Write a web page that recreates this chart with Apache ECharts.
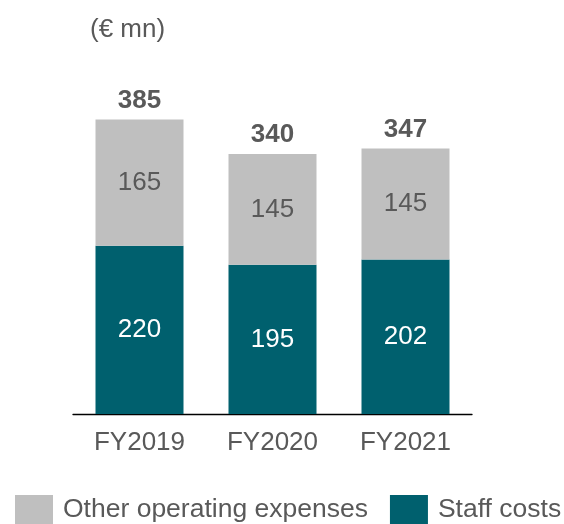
<!DOCTYPE html>
<html>
<head>
<meta charset="utf-8">
<script src="https://cdn.jsdelivr.net/npm/echarts@6/dist/echarts.min.js"></script>
<style>
html,body{margin:0;padding:0;background:#fff;}
#c{width:564px;height:524px;}
</style>
</head>
<body>
<div id="c"></div>
<script>
const categories = ['FY2019', 'FY2020', 'FY2021'];
const staffCosts = [220, 195, 202];
const otherOpex = [165, 145, 145];
const totals = [385, 340, 347];
const unitLabel = '(€ mn)';

const FONT = "'Liberation Sans', Arial, sans-serif";
const chart = echarts.init(document.getElementById('c'), null, {renderer: 'canvas'});
chart.setOption({
  animation: false,
  backgroundColor: '#ffffff',
  title: {
    text: unitLabel,
    left: 90, top: 17, padding: 0,
    textStyle: {fontFamily: FONT, fontSize: 26, fontWeight: 'normal', color: '#595959'}
  },
  legend: {
    data: ['Other operating expenses', 'Staff costs'],
    left: 15, top: 495, padding: 0, width: 800, orient: 'horizontal',
    itemWidth: 38, itemHeight: 29, itemGap: 22,
    icon: 'rect',
    textStyle: {fontFamily: FONT, fontSize: 26.5, color: '#595959', padding: [0, 0, 0, 5]}
  },
  grid: {left: 73, right: 92, top: 108, bottom: 110},
  xAxis: {
    type: 'category',
    data: categories,
    axisLine: {show: true, lineStyle: {color: '#000000', width: 1.3}},
    axisTick: {show: false},
    axisLabel: {fontFamily: FONT, fontSize: 26, color: '#595959', margin: 16}
  },
  yAxis: {
    type: 'value', min: 0, max: 400, show: false,
    splitLine: {show: false}
  },
  series: [
    {
      name: 'Staff costs', type: 'bar', stack: 'total', barWidth: 88,
      data: staffCosts,
      itemStyle: {color: '#00606E'},
      label: {show: true, position: 'inside', fontFamily: FONT, fontSize: 26, color: '#ffffff'}
    },
    {
      name: 'Other operating expenses', type: 'bar', stack: 'total', barWidth: 88,
      data: otherOpex,
      itemStyle: {color: '#BFBFBF'},
      label: {show: true, position: 'inside', fontFamily: FONT, fontSize: 26, color: '#595959'}
    },
    {
      name: 'Total', type: 'bar', barWidth: 88, barGap: '-100%',
      data: totals, silent: true, z: 1,
      itemStyle: {color: 'rgba(0,0,0,0)'},
      label: {show: true, position: 'top', distance: 6, fontFamily: FONT, fontSize: 26, fontWeight: 'bold', color: '#595959'}
    }
  ]
});
</script>
</body>
</html>
